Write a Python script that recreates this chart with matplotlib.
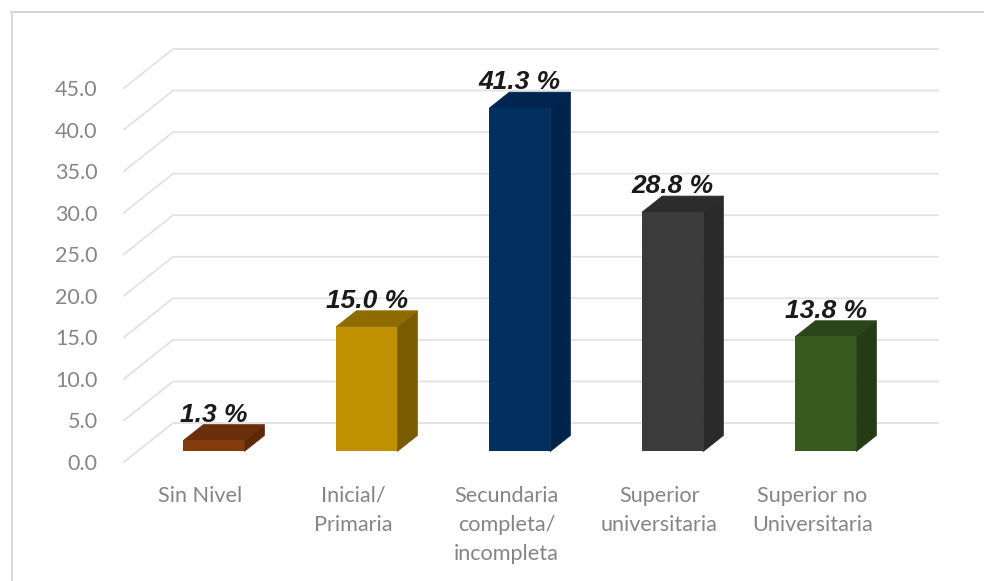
import matplotlib
matplotlib.use("Agg")
import matplotlib.pyplot as plt
from matplotlib.lines import Line2D

categories = ['Sin Nivel', 'Inicial/\nPrimaria', 'Secundaria\ncompleta/\nincompleta', 'Superior\nuniversitaria', 'Superior no\nUniversitaria']
values = [1.3, 15.0, 41.3, 28.8, 13.8]
value_labels = ['1.3 %', '15.0 %', '41.3 %', '28.8 %', '13.8 %']
y_ticks = [0, 5, 10, 15, 20, 25, 30, 35, 40, 45]

front_colors = ['#843c0c', '#bf9000', '#002f60', '#3b3b3b', '#385a1f']
top_colors = ['#6a2f08', '#8f6c00', '#002550', '#2c2c2c', '#2a4617']
side_colors = ['#5c2806', '#7a5c00', '#00234a', '#2a2a2a', '#243c14']

FIG_W, FIG_H = 984, 581
GRID_COLOR = '#e2e2e2'

# oblique 3D look: how far the back wall is shifted from the front plane
DEPTH_X = 49 / 153
DEPTH_Y = 39 / (374 / 45)
BAR_WIDTH = 61 / 153
BAR_D0 = 0.27 # where the bar starts inside the floor depth
BAR_D1 = 0.68

def drawGrid(ax, x_min, x_max):
	for v in y_ticks:
		ax.plot([x_min, x_min + DEPTH_X, x_max + DEPTH_X], [v, v + DEPTH_Y, v + DEPTH_Y], color=GRID_COLOR, lw=1.3, clip_on=False, zorder=1)

def drawBar(ax, i, value):
	x0 = i - BAR_WIDTH / 2 + BAR_D0 * DEPTH_X
	x1 = x0 + BAR_WIDTH
	y0 = BAR_D0 * DEPTH_Y
	y1 = y0 + value
	dx = (BAR_D1 - BAR_D0) * DEPTH_X
	dy = (BAR_D1 - BAR_D0) * DEPTH_Y

	# side and top first, so the front face covers their seams
	ax.fill([x1, x1 + dx, x1 + dx, x1], [y0, y0 + dy, y1 + dy, y1], facecolor=side_colors[i], edgecolor=side_colors[i], lw=0.6, zorder=3, clip_on=False)
	ax.fill([x0, x0 + dx, x1 + dx, x1], [y1, y1 + dy, y1 + dy, y1], facecolor=top_colors[i], edgecolor=top_colors[i], lw=0.6, zorder=3, clip_on=False)
	ax.bar(x0, value, width=BAR_WIDTH, bottom=y0, align='edge', color=front_colors[i], zorder=3)

	ax.text((x0 + x1) / 2, y1 + dy + 0.35, value_labels[i], ha='center', va='baseline', fontsize=19,
		fontstyle='italic', fontweight='bold', family='Liberation Sans', color='#1a1a1a', zorder=4)

if "__main__" == __name__:
	fig = plt.figure(figsize=(FIG_W / 100, FIG_H / 100), dpi=100)
	fig.patch.set_facecolor('white')

	# axes rectangle is the front plane of the chart box
	ax = fig.add_axes([124 / FIG_W, (FIG_H - 462) / FIG_H, 765 / FIG_W, 374 / FIG_H])
	ax.patch.set_alpha(0)
	ax.set_xlim(-0.5, 4.5)
	ax.set_ylim(0, 45)
	for spine in ax.spines.values():
		spine.set_visible(False)

	drawGrid(ax, -0.5, 4.5)
	for i, value in enumerate(values):
		drawBar(ax, i, value)

	ax.set_yticks(y_ticks)
	ax.set_yticklabels([f'{v:.1f}' for v in y_ticks], family='Lato', fontsize=15.5, color='#858585')
	ax.set_xticks(range(len(categories)))
	ax.set_xticklabels(categories, family='Lato', fontsize=15.6, color='#858585', linespacing=1.58)
	ax.tick_params(axis='y', length=0, pad=19)
	ax.tick_params(axis='x', length=0, pad=17)

	# thin frame around the picture, top and left only
	fig.add_artist(Line2D([11 / FIG_W, 1], [1 - 12 / FIG_H, 1 - 12 / FIG_H], color='#d4d4d4', lw=1.5))
	fig.add_artist(Line2D([12 / FIG_W, 12 / FIG_W], [0, 1 - 12 / FIG_H], color='#dcdcdc', lw=1.5))

	fig.savefig('out.png', dpi=100)
